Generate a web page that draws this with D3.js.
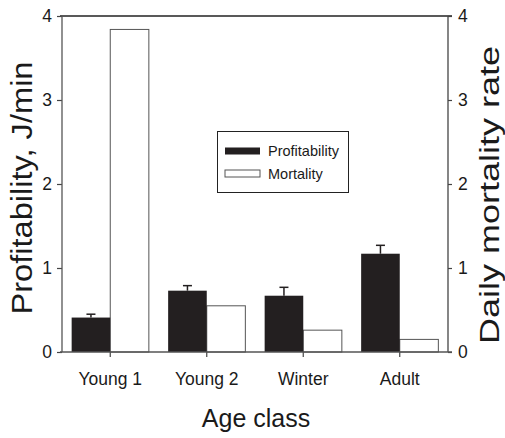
<!DOCTYPE html>
<html>
<head>
<meta charset="utf-8">
<script src="https://cdn.jsdelivr.net/npm/d3@7"></script>
<style>
  body { margin: 0; background: #fff; }
  text { font-family: "Liberation Sans", Arial, sans-serif; fill: #1a1a1a; }
</style>
</head>
<body>
<div id="chart"></div>
<script>
var categories = ["Young 1", "Young 2", "Winter", "Adult"];
var profitability = [0.41, 0.73, 0.67, 1.17];
var profitErr = [0.04, 0.06, 0.10, 0.10];
var mortality = [3.84, 0.55, 0.26, 0.15];
var yTicks = [0, 1, 2, 3, 4];
var legendLabels = ["Profitability", "Mortality"];

var svg = d3.select("#chart").append("svg")
    .attr("width", 505)
    .attr("height", 438);

var pLeft = 62, pRight = 448, pTop = 16, pBottom = 352;

var x = d3.scaleBand().domain(categories).range([pLeft, pRight]).paddingInner(0.2).paddingOuter(0.1);
var yL = d3.scaleLinear().domain([0, 4]).range([pBottom, pTop]);
var yR = d3.scaleLinear().domain([0, 4]).range([pBottom, pTop]);
var bw = x.bandwidth() / 2;

// bars
var g = svg.append("g");
g.selectAll(".mort")
  .data(categories)
  .enter().append("rect")
  .attr("class", "mort")
  .attr("x", function(d) { return x(d) + bw; })
  .attr("y", function(d, i) { return yR(mortality[i]); })
  .attr("width", bw)
  .attr("height", function(d, i) { return pBottom - yR(mortality[i]); })
  .style("fill", "#fff")
  .style("stroke", "#555")
  .style("stroke-width", 1);

g.selectAll(".prof")
  .data(categories)
  .enter().append("rect")
  .attr("class", "prof")
  .attr("x", function(d) { return x(d); })
  .attr("y", function(d, i) { return yL(profitability[i]); })
  .attr("width", bw)
  .attr("height", function(d, i) { return pBottom - yL(profitability[i]); })
  .style("fill", "#231f20");

// error bars (upper only)
var eb = g.selectAll(".err").data(categories).enter().append("g").attr("class", "err");
eb.append("line")
  .attr("x1", function(d) { return x(d) + bw / 2; })
  .attr("x2", function(d) { return x(d) + bw / 2; })
  .attr("y1", function(d, i) { return yL(profitability[i]); })
  .attr("y2", function(d, i) { return yL(profitability[i] + profitErr[i]); })
  .style("stroke", "#231f20").style("stroke-width", 1.5);
eb.append("line")
  .attr("x1", function(d) { return x(d) + bw / 2 - 4.5; })
  .attr("x2", function(d) { return x(d) + bw / 2 + 4.5; })
  .attr("y1", function(d, i) { return yL(profitability[i] + profitErr[i]); })
  .attr("y2", function(d, i) { return yL(profitability[i] + profitErr[i]); })
  .style("stroke", "#231f20").style("stroke-width", 1.5);

// frame top line
svg.append("line").attr("x1", 60).attr("x2", 452).attr("y1", pTop).attr("y2", pTop)
  .style("stroke", "#222").style("stroke-width", 1.5);

// axes
var axL = svg.append("g").attr("transform", "translate(" + pLeft + ",0)")
  .call(d3.axisLeft(yL).tickValues(yTicks).tickSize(5).tickPadding(5).tickFormat(d3.format("d")));
var axR = svg.append("g").attr("transform", "translate(" + pRight + ",0)")
  .call(d3.axisRight(yR).tickValues(yTicks).tickSize(4).tickPadding(6).tickFormat(d3.format("d")));
var axB = svg.append("g").attr("transform", "translate(0," + pBottom + ")")
  .call(d3.axisBottom(x).tickSize(5).tickPadding(16).tickSizeOuter(0));

[axL, axR, axB].forEach(function(a) {
  a.select(".domain").remove();
  a.selectAll(".tick line").style("stroke", "#444").style("stroke-width", 1.2);
  a.selectAll("text").style("font-size", "17.5px").style("fill", "#1a1a1a");
});
axL.append("line").attr("y1", pTop).attr("y2", pBottom).style("stroke", "#555").style("stroke-width", 1.3);
axR.append("line").attr("y1", pTop).attr("y2", pBottom).style("stroke", "#444").style("stroke-width", 1.3);
axB.append("line").attr("x1", 60).attr("x2", 452).style("stroke", "#555").style("stroke-width", 1.5);

// axis titles
svg.append("text")
  .attr("transform", "translate(32,188) rotate(-90)")
  .attr("text-anchor", "middle")
  .attr("textLength", 253)
  .attr("lengthAdjust", "spacingAndGlyphs")
  .style("font-size", "29px")
  .text("Profitability, J/min");

svg.append("text")
  .attr("transform", "translate(499,195) rotate(-90)")
  .attr("text-anchor", "middle")
  .attr("textLength", 298)
  .attr("lengthAdjust", "spacingAndGlyphs")
  .style("font-size", "27px")
  .text("Daily mortality rate");

svg.append("text")
  .attr("x", 256)
  .attr("y", 427)
  .attr("text-anchor", "middle")
  .style("font-size", "25px")
  .text("Age class");

// legend
var lg = svg.append("g");
lg.append("rect").attr("x", 217.5).attr("y", 131.5).attr("width", 131).attr("height", 61)
  .style("fill", "#fff").style("stroke", "#222").style("stroke-width", 1);
var fills = ["#231f20", "#fff"];
legendLabels.forEach(function(l, i) {
  lg.append("rect").attr("x", 225).attr("y", 147.5 + i * 22.5).attr("width", 35).attr("height", 7)
    .style("fill", fills[i]).style("stroke", i ? "#555" : "none");
  lg.append("text").attr("x", 268).attr("y", 156 + i * 23)
    .style("font-size", "14.5px").text(l);
});
</script>
</body>
</html>
